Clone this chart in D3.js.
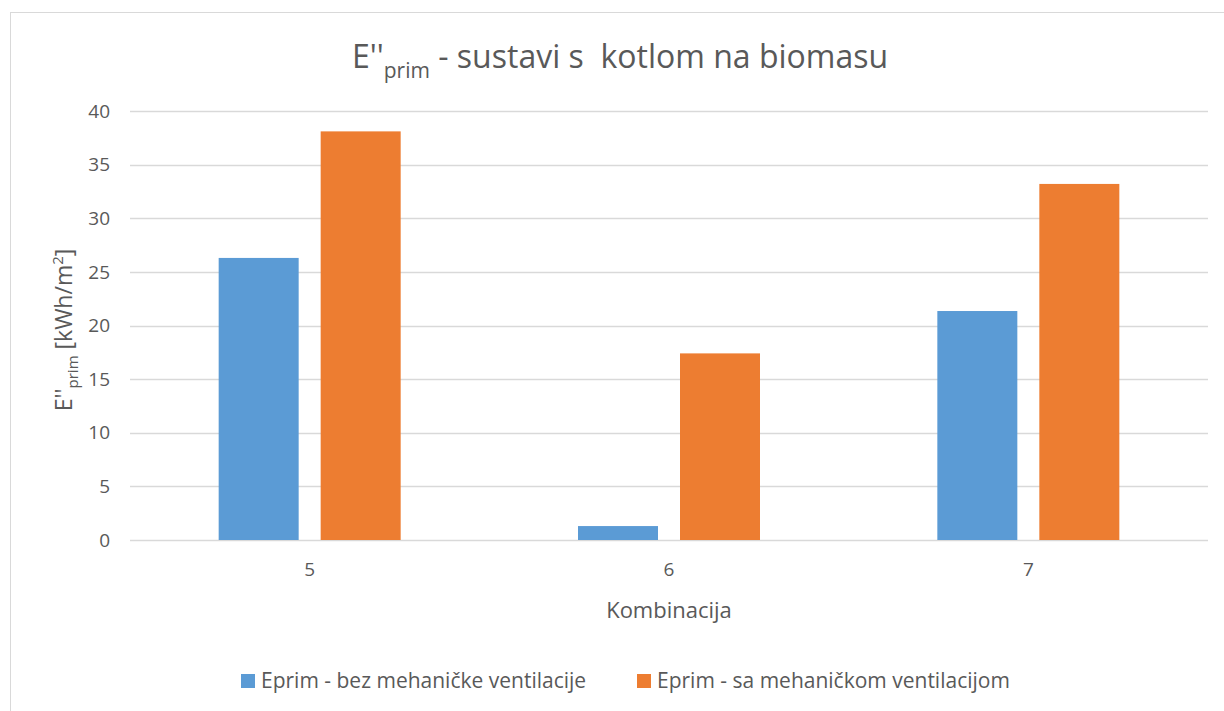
<!DOCTYPE html>
<html>
<head>
<meta charset="utf-8">
<script src="https://cdn.jsdelivr.net/npm/d3@7"></script>
<style>
  html, body { margin: 0; padding: 0; background: #fff; }
  svg { display: block; font-family: 'Open Sans', 'Noto Sans', sans-serif; }
</style>
</head>
<body>
<div id="chart"></div>
<script>
// E''prim bar chart - biomass boiler systems
const categories = ['5', '6', '7'];
const seriesNames = ['Eprim - bez mehaničke ventilacije', 'Eprim - sa mehaničkom ventilacijom'];
const withoutVent = [26.3, 1.3, 21.35];
const withVent = [38.1, 17.4, 33.2];
const yTicks = [0, 5, 10, 15, 20, 25, 30, 35, 40];

const W = 1224, H = 711;
const COLORS = { blue: '#5B9BD5', orange: '#ED7D31', grid: '#D9D9D9', text: '#595959' };
const plot = { left: 130, right: 1208, top: 111, bottom: 540 };

const svg = d3.select('#chart').append('svg').attr('width', W).attr('height', H);

// outer chart frame
svg.append('rect').attr('x', 10.5).attr('y', 12.5).attr('width', W + 10).attr('height', H + 10)
  .attr('fill', 'none').attr('stroke', COLORS.grid).attr('stroke-width', 1);

const x = d3.scaleBand().domain(categories).range([plot.left, plot.right]).paddingInner(0).paddingOuter(0);
const y = d3.scaleLinear().domain([0, 40]).range([plot.bottom, plot.top]);
const barW = 80, gap = 22;

// gridlines
svg.append('g').selectAll('line').data(yTicks).join('line')
  .attr('x1', plot.left).attr('x2', plot.right)
  .attr('y1', d => Math.round(y(d)) + 0.5).attr('y2', d => Math.round(y(d)) + 0.5)
  .attr('stroke', COLORS.grid).attr('stroke-width', 1.3);

// y tick labels
svg.append('g').selectAll('text').data(yTicks).join('text')
  .attr('x', 110).attr('y', d => y(d)).attr('dy', '0.35em')
  .attr('text-anchor', 'end').attr('fill', COLORS.text).attr('font-size', 19)
  .text(d => d);

// bars
const series = [withoutVent, withVent];
const colors = [COLORS.blue, COLORS.orange];
series.forEach((vals, si) => {
  svg.append('g').selectAll('rect').data(vals).join('rect')
    .attr('x', (d, i) => x(categories[i]) + x.bandwidth() / 2 - barW - gap / 2 + si * (barW + gap))
    .attr('y', d => y(d))
    .attr('width', barW)
    .attr('height', d => y(0) - y(d))
    .attr('fill', colors[si]);
});

// x tick labels
svg.append('g').selectAll('text').data(categories).join('text')
  .attr('x', d => x(d) + x.bandwidth() / 2).attr('y', 576)
  .attr('text-anchor', 'middle').attr('fill', COLORS.text).attr('font-size', 19)
  .text(d => d);

// x axis title
svg.append('text').attr('x', 669).attr('y', 618).attr('text-anchor', 'middle')
  .attr('fill', COLORS.text).attr('font-size', 22).text('Kombinacija');

// y axis title
const yt = svg.append('text').attr('transform', 'translate(72,330) rotate(-90)')
  .attr('text-anchor', 'middle').attr('fill', COLORS.text).attr('font-size', 23);
yt.append('tspan').text("E''");
yt.append('tspan').attr('font-size', 15).attr('dy', 6).text('prim');
yt.append('tspan').attr('dy', -6).text(' [kWh/m');
yt.append('tspan').attr('font-size', 15).attr('dy', -9).text('2');
yt.append('tspan').attr('dy', 9).text(']');

// title
const tt = svg.append('text').attr('x', 620).attr('y', 68).attr('text-anchor', 'middle')
  .attr('fill', COLORS.text).attr('font-size', 32);
tt.append('tspan').text("E''");
tt.append('tspan').attr('font-size', 21).attr('dy', 10).text('prim');
tt.append('tspan').attr('dy', -10).text(' - sustavi s\u00a0 kotlom na biomasu');

// legend
const legendX = [241, 637];
seriesNames.forEach((name, i) => {
  const lg = svg.append('g').attr('transform', `translate(${legendX[i]},681)`);
  lg.append('rect').attr('x', 0).attr('y', -7).attr('width', 14).attr('height', 14).attr('fill', colors[i]);
  lg.append('text').attr('x', 20).attr('y', 0).attr('dy', '0.35em')
    .attr('fill', COLORS.text).attr('font-size', 21).text(name);
});
</script>
</body>
</html>
